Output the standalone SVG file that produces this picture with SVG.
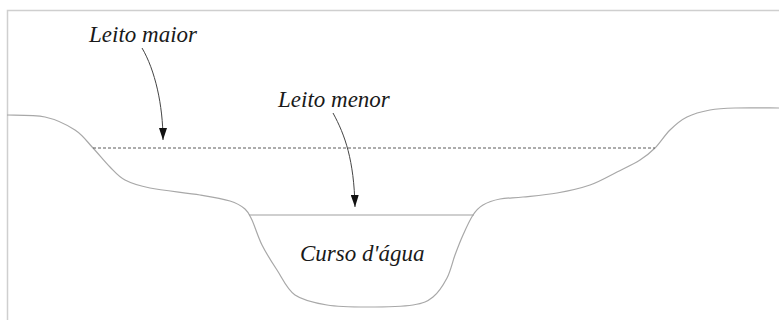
<svg xmlns="http://www.w3.org/2000/svg" width="779" height="320" viewBox="0 0 779 320">
<style>
.frame{fill:none;stroke:#cfcfcf;stroke-width:1.5}
.ground{fill:none;stroke:#a8a8a8;stroke-width:1.2}
.water{fill:none;stroke:#a0a0a0;stroke-width:1.2}
.flood{fill:none;stroke:#5a5a5a;stroke-width:1;stroke-dasharray:3 2}
.arrow{fill:none;stroke:#444;stroke-width:1}
.lbl{font-family:"Liberation Serif","Times New Roman",serif;font-style:italic;font-size:23px;fill:#1a1a1a}
</style>
<defs>
<marker id="ah" viewBox="0 0 12 8" refX="12" refY="4" markerWidth="12" markerHeight="8" markerUnits="userSpaceOnUse" orient="auto">
<path d="M0,0 L12,4 L0,8 z" fill="#111"/>
</marker>
</defs>
<rect width="779" height="320" fill="#fff"/>
<path class="frame" d="M7.5,320 V10.5 H779"/>
<g id="terrain">
<path class="ground" d="M7,115 C13.3,115.3 33.7,114.5 45,117 C56.3,119.5 67,124.8 75,130 C83,135.2 87.2,141.8 93,148 C98.8,154.2 104.7,161.7 110,167 C115.3,172.3 118.3,176.5 125,180 C131.7,183.5 137.5,185.5 150,188 C162.5,190.5 186.7,192.8 200,195 C213.3,197.2 222.5,198.7 230,201 C237.5,203.3 241.3,205.8 245,209 C248.7,212.2 249.2,214 252,220 C254.8,226 257.8,236.7 262,245 C266.2,253.3 271.5,261.7 277,270 C282.5,278.3 286.7,289.2 295,295 C303.3,300.8 315,303 327,305 C339,307 352.7,307 367,307 C381.3,307 402,306.7 413,305 C424,303.3 427.3,301.5 433,297 C438.7,292.5 443.3,285 447,278 C450.7,271 452.3,262.2 455,255 C457.7,247.8 460,241.7 463,235 C466,228.3 469.7,220 473,215 C476.3,210 478.5,207.7 483,205 C487.5,202.3 493.3,200.3 500,199 C506.7,197.7 513.5,198 523,197 C532.5,196 545.8,195 557,193 C568.2,191 580,188.5 590,185 C600,181.5 608.7,176.2 617,172 C625.3,167.8 633.7,164 640,160 C646.3,156 650,153 655,148 C660,143 664.7,135.2 670,130 C675.3,124.8 680.3,120.3 687,117 C693.7,113.7 702,111.5 710,110 C718,108.5 723.5,108.3 735,108 C746.5,107.7 771.7,108 779,108"/>
</g>
<g id="water-level">
<line class="water" x1="249" y1="215" x2="474" y2="215"/>
</g>
<g id="flood-level">
<line class="flood" x1="93" y1="148" x2="655" y2="148"/>
</g>
<g id="connectors">
<path class="arrow" d="M142,48 C155,70 163,105 163,140" marker-end="url(#ah)"/>
<path class="arrow" d="M333,113 C345,135 354,160 355,207" marker-end="url(#ah)"/>
</g>
<g id="leito-maior"><text class="lbl" x="89" y="42">Leito maior</text></g>
<g id="leito-menor"><text class="lbl" x="278" y="107">Leito menor</text></g>
<g id="curso-dagua"><text class="lbl" x="300" y="261">Curso d'água</text></g>
</svg>
